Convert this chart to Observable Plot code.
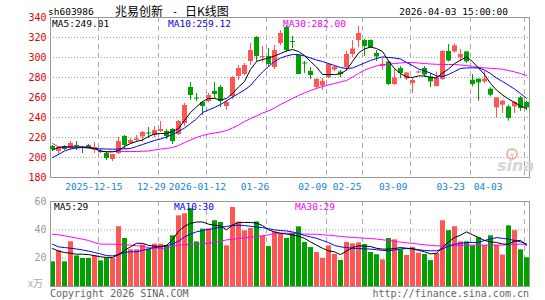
<!DOCTYPE html>
<html>
<head>
<meta charset="utf-8">
<script src="https://cdn.jsdelivr.net/npm/d3@7"></script>
<script src="https://cdn.jsdelivr.net/npm/@observablehq/plot@0.6"></script>
<style>
  html, body { margin: 0; padding: 0; background: #fff; }
  #wrap { position: relative; width: 545px; height: 300px; overflow: hidden; background: #fff; }
  #price, #vol, #overlay { position: absolute; left: 0; }
  #price { top: 0; }
  #vol { top: 190px; }
  #overlay { top: 0; pointer-events: none; }
</style>
</head>
<body>
<div id="wrap">
  <div id="price"></div>
  <div id="vol"></div>
  <svg id="overlay" width="545" height="300"></svg>
</div>
<script>
// ---------------- data ----------------
const dates = [
  "2025-12-03","2025-12-04","2025-12-05","2025-12-08","2025-12-09","2025-12-10","2025-12-11","2025-12-12",
  "2025-12-15","2025-12-16","2025-12-17","2025-12-18","2025-12-19","2025-12-22","2025-12-23","2025-12-24",
  "2025-12-25","2025-12-26","2025-12-29","2025-12-30","2025-12-31","2026-01-05","2026-01-06","2026-01-07",
  "2026-01-08","2026-01-09","2026-01-12","2026-01-13","2026-01-14","2026-01-15","2026-01-16","2026-01-19",
  "2026-01-20","2026-01-21","2026-01-22","2026-01-23","2026-01-26","2026-01-27","2026-01-28","2026-01-29",
  "2026-01-30","2026-02-02","2026-02-03","2026-02-04","2026-02-05","2026-02-06","2026-02-09","2026-02-10",
  "2026-02-11","2026-02-12","2026-02-13","2026-02-24","2026-02-25","2026-02-26","2026-02-27","2026-03-02",
  "2026-03-03","2026-03-04","2026-03-05","2026-03-06","2026-03-09","2026-03-10","2026-03-11","2026-03-12",
  "2026-03-13","2026-03-16","2026-03-17","2026-03-18","2026-03-19","2026-03-20","2026-03-23","2026-03-24",
  "2026-03-25","2026-03-26","2026-03-27","2026-03-30","2026-03-31","2026-04-01","2026-04-02","2026-04-03"
];
const open = [211,206,211,209,212,210,212,207,206,204,198,204,221,214,217,220.6,224.5,222,226,226,228,223,234,270,
  259.5,255,256,266,270,251,261,281,283,296,320,300,301,290,314,330,316,302,294.5,286,270,271.5,280,287.5,
  285.5,290,303,317,317,317,304,291,295.5,273,289,278.5,274,284.5,289,280.6,271,278,306,305.6,299.6,305.6,
  277.3,278.3,275.6,268.3,249.6,252.3,250.6,250.6,259.6,255];
const high = [212,211,212,216,216,211,213,215,208,205,203,220,222,219,222,226,230,231,236,228,229,237,254,275,
  264,256,264,275,272,257,281,292,294,314,321,311,309,312,327,332,321,303,296,290,279,279,294,291,
  287,306,317,331,318,317.5,307,299,296,289,291,285,279.5,286.5,291,284,285.6,307,313,313.5,308,306,
  283,278.5,286,269.6,259.6,257.3,252.3,256.3,261,256.5];
const low = [206,202,207,207,207,204,209,204,204,197,196,203,208,213,215,215,219,220,225,218,213,222,231,257,
  256,242,255,259,250,247,258,277,282,292,296,295,291,288,312,305,309,283,284,278,268,267,279,286,
  280,286,300,310,301,309,296,287,272,272,279,277,264,284,280,270,270.6,277,295.6,304,296,294,
  270.6,256.3,274,260.6,239.6,244,236.3,244,246,247];
const close = [208,210,208,214,211,209,210,210,205,199,203,216,212,217,218.5,225,223.5,227,228,221,216,236,252,262,
  258.5,251,262,263,256,255,280,289,292,307,301,301,293,307,324,307,315,283,293.5,282,278,276,293,290.5,
  283,303,308.5,324,311,310,300.5,293,273,279.5,284,284.5,277,285.6,282.5,275.6,279.5,306,296.5,311.6,303,295.6,
  273,274.6,278.3,262.3,259.6,256.3,239,255,249,249.6];
const volume = [17.4,25.2,17.4,31.6,21.6,19.8,19.8,21.6,18.1,19.9,19.8,42.2,33.9,25.9,25.9,29.3,26.4,29.9,29.9,28.7,
  35.8,49.9,51.3,55,31.5,40.5,40.5,46.4,45.2,28.7,55.8,45.5,39.3,40.9,45.6,35.3,28.2,38.4,36.9,33.9,
  37.6,42.1,31.1,27.5,24,19.8,28.7,22.6,18.4,31.1,30.1,30.8,29.6,24,22.4,18.8,33.9,32.9,25.9,21.9,
  27.5,23.5,22.6,18.3,23.3,46.4,39.4,42.2,31.5,31.5,28.7,34.4,28.7,35.8,29,22.2,42.8,39.4,25.9,20.3];
// moving averages as drawn on the chart (price)
const ma5 = [207.5,210,210.5,210.5,210.5,210.5,210,209,206.5,205.6,205.6,207,211,214,216,217.5,221,223.5,224,224,
  226,229,237,245,250.6,256,259,259,257.5,259,264,270.5,276,288,296,298,299.5,301.5,304,306.5,
  308,306,302,296,290.5,283,283,283,283.5,287.5,296,304.5,308.5,310.5,309,306,296.5,289,284,280.5,
  280,281.6,281.6,280,279.6,284.5,288.5,294,297.3,300.6,296,289.5,283,274,267.5,262.5,258.5,255,251.6,249.01];
const ma10 = [200,203,206.5,208.5,209.5,210,209.5,209,208.7,208.5,208.3,208.5,208.7,209,211,213,215,217,218.5,220.5,
  223,226,229.5,234,238.5,245,247.5,250,253,256.5,260.5,264,267.5,272,279,285.5,291,296,299.5,301.5,
  303,303,301.5,299.5,297.5,296,294,292,290,289,289.5,292,294.5,297,299,300.6,300,299.5,298.5,295,
  292,288.5,286.5,284.5,281.5,281,283,286,289,289.6,289.6,289.6,287.5,284,279.5,276,272.3,268.5,264,259.12];
const ma30 = [214,210.6,210.6,210.6,210.6,210.5,210.5,209,206.3,206,206,206,206,206,206,206.3,206.5,207.5,208.5,209,
  210,212,215,217.5,220,222,223.5,224.5,225.5,227,229.5,232.5,236,239,241.5,244.5,246.5,249.5,253,256,
  259,262,264.5,267,269,271,272.5,274,275.5,277,280.5,284,287.5,289.6,291.5,292.8,293.5,294,294.5,295,
  295,294.5,294,293.5,293.2,293,293,293,292.5,292,291,290.2,289.6,289.2,288.8,288.3,287,285.6,284,282];
// moving averages as drawn on the chart (volume)
const vma5 = [26.8,25,24,23.5,22.8,22.8,22.5,21.8,21,20.5,20.5,22.5,25.5,28,30.5,30.5,29,28.5,28.2,29,
  33,39,42.5,44.5,45.5,45.6,44,43.3,42.8,40,43.5,45.2,45.2,45.2,44.8,43,40,38.5,37.6,37,
  36.5,35.5,34,31.5,29.2,27,25.2,24.5,22.5,25,27.5,28.7,28.5,28.2,27,26.4,26.4,26.8,27.5,27,
  26.8,25.5,24.5,23,23.5,27.5,31.5,34.5,36.2,38.6,36.5,34.6,32.5,31.5,31.1,30,29.9,32,32.5,29.3];
const vma10 = [29.9,28,27.5,27,26.5,25.8,25,24,23,21.8,21.6,22.5,24,24.5,24.5,25.5,26.5,27.5,28,28.7,
  30,32,35,37,38.6,39.5,40.3,41,41.8,42.4,43,43.3,43,42.5,42,41.6,40.8,40,39.5,39.2,
  38.5,37.5,36,35,34,32.5,31,29,28,27.5,27,26.8,26.5,26.4,26,25.5,25.2,25.8,26.5,26.8,
  26.5,26,25.5,25.2,25.2,26.5,28.5,29.8,30.5,31.1,31.1,31.1,32.5,33.5,34.5,34,33.4,32.5,31.5,30];
const vma30 = [36.9,36.5,35.8,35,34.2,33.4,32.5,31,29.9,29.9,29.9,29.7,29.5,29.2,28.8,28.3,27.5,27.2,27,26.8,
  28.7,29,29.5,29.8,30,30.3,30.6,31.3,32,32.9,33.3,33.9,34.3,34.8,35.3,35.8,36.5,37.5,37.6,37.6,
  37.5,37.2,37,36.9,36.9,36.5,36.2,35.8,35.4,35,34.6,34.4,34.1,33.9,33.5,33,32.5,32,31.3,30.8,
  30.5,29.9,29.5,29,28.7,28.7,28.7,28.7,29,29.2,29.2,29.2,29.2,29.2,29.2,29.2,29.5,29.7,29.9,29.2];

const tickDates = ["2025-12-15","2025-12-29","2026-01-12","2026-01-26","2026-02-09","2026-02-25","2026-03-09","2026-03-23","2026-04-03"];
const tickLabels = ["2025-12-15","12-29","2026-01-12","01-26","02-09","02-25","03-09","03-23","04-03"];
const priceTicks = [180,200,220,240,260,280,300,320,340];
const priceGrid = [200,220,240,260,280,300,320];
const volTicks = [20,40,60];
const volGrid = [20,40];

// ---------------- build ----------------
const UP = "#ff5555", DOWN = "#00a000";
const rows = dates.map((d, i) => ({
  i, date: d, open: open[i], high: high[i], low: low[i], close: close[i], vol: volume[i],
  ma5: ma5[i], ma10: ma10[i], ma30: ma30[i], vma5: vma5[i], vma10: vma10[i], vma30: vma30[i]
}));
const isUp = d => d.close >= d.open;
const ticks = tickDates.map((d, k) => ({i: dates.indexOf(d), label: tickLabels[k]}));
const xDomain = [-1 / 3, dates.length - 0.5];
const mono = "DejaVu Sans Mono, monospace";
// sina staggers date labels slightly left of their grid line; last one kept inside
const labelX = d => Math.min(d.i * 0.9595 - 0.79, 72.6);

const price = Plot.plot({
  width: 545, height: 190,
  marginLeft: 50, marginRight: 16, marginTop: 17, marginBottom: 13,
  style: {background: "transparent", overflow: "visible", fontFamily: mono, fontSize: "10px"},
  x: {type: "linear", domain: xDomain, axis: null},
  y: {domain: [180, 340], axis: null},
  marks: [
    Plot.ruleY(priceGrid, {y: d => d, stroke: "#a0a0a0", strokeDasharray: "1,2"}),
    Plot.ruleX(ticks, {x: "i", dx: -2, stroke: "#aaaaaa", strokeDasharray: "5,4"}),
    Plot.frame({stroke: "#999999"}),
    Plot.ruleX(rows, {filter: isUp, x: "i", y1: "low", y2: "high", stroke: UP}),
    Plot.ruleX(rows, {filter: d => !isUp(d), x: "i", y1: "low", y2: "high", stroke: DOWN}),
    Plot.ruleX(rows, {filter: isUp, x: "i", y1: "open", y2: "close", stroke: UP, strokeWidth: 5}),
    Plot.ruleX(rows, {filter: d => !isUp(d), x: "i", y1: "open", y2: "close", stroke: DOWN, strokeWidth: 5}),
    Plot.line(rows, {x: "i", y: "ma30", stroke: "#ff00ff", strokeWidth: 1}),
    Plot.line(rows, {x: "i", y: "ma10", stroke: "#0000ff", strokeWidth: 1}),
    Plot.line(rows, {x: "i", y: "ma5", stroke: "#000000", strokeWidth: 1}),
    Plot.text(priceTicks, {y: d => d, text: d => String(d), frameAnchor: "left", textAnchor: "end", dx: -4,
      fill: "#e00000", fontSize: 10, fontFamily: mono}),
    Plot.text(ticks, {x: labelX, text: "label", frameAnchor: "bottom", lineAnchor: "top", dy: 6,
      fill: "#1184d6", fontSize: 9.5, fontFamily: mono})
  ]
});
document.getElementById("price").appendChild(price);

const vol = Plot.plot({
  width: 545, height: 110,
  marginLeft: 50, marginRight: 16, marginTop: 11, marginBottom: 14,
  style: {background: "transparent", overflow: "visible", fontFamily: mono, fontSize: "10px"},
  x: {type: "linear", domain: xDomain, axis: null},
  y: {domain: [0, 60], axis: null},
  marks: [
    Plot.ruleY(volGrid, {y: d => d, stroke: "#a0a0a0", strokeDasharray: "1,2"}),
    Plot.ruleX(ticks, {x: "i", dx: -2, stroke: "#aaaaaa", strokeDasharray: "5,4"}),
    Plot.ruleX(rows, {filter: isUp, x: "i", y1: 0, y2: "vol", stroke: UP, strokeWidth: 5}),
    Plot.ruleX(rows, {filter: d => !isUp(d), x: "i", y1: 0, y2: "vol", stroke: DOWN, strokeWidth: 5}),
    Plot.line(rows, {x: "i", y: "vma30", stroke: "#ff00ff", strokeWidth: 1}),
    Plot.line(rows, {x: "i", y: "vma10", stroke: "#0000ff", strokeWidth: 1}),
    Plot.line(rows, {x: "i", y: "vma5", stroke: "#000000", strokeWidth: 1}),
    Plot.frame({stroke: "#999999"}),
    Plot.text(volTicks, {y: d => d, text: d => String(d), frameAnchor: "left", textAnchor: "end", dx: -4,
      fill: "#999999", fontSize: 10, fontFamily: mono})
  ]
});
document.getElementById("vol").appendChild(vol);

// ---------------- text overlay ----------------
const ov = d3.select("#overlay");
function t(x, y, s, opts = {}) {
  ov.append("text").attr("x", x).attr("y", y)
    .attr("font-family", opts.family || mono)
    .attr("font-size", opts.size || 9.5)
    .attr("fill", opts.fill || "#000")
    .attr("text-anchor", opts.anchor || "start")
    .attr("font-style", opts.style || "normal")
    .attr("font-weight", opts.weight || "normal")
    .text(s);
}
const cjk = "Noto Sans CJK SC, sans-serif";
t(48, 15, "sh603986");
t(115, 15.5, "兆易创新", {family: cjk, size: 12});
t(172, 15, "-", {size: 10});
t(185, 15.5, "日K线图", {family: cjk, size: 12});
t(508, 15, "2026-04-03 15:00:00", {anchor: "end"});
t(52, 27, "MA5:" + ma5[ma5.length - 1].toFixed(2));
t(168, 27, "MA10:" + ma10[ma10.length - 1].toFixed(2), {fill: "#0000ee"});
t(283, 27, "MA30:" + ma30[ma30.length - 1].toFixed(2), {fill: "#ee00ee"});
t(54, 210, "MA5:" + Math.round(vma5[vma5.length - 1]));
t(174, 210, "MA10:" + Math.round(vma10[vma10.length - 1]), {fill: "#0000ee"});
t(295, 210, "MA30:" + Math.round(vma30[vma30.length - 1]), {fill: "#ee00ee"});
t(28, 287, "x万", {fill: "#aaaaaa", size: 10, family: cjk});
t(50, 297, "Copyright 2026 SINA.COM", {fill: "#666666", size: 10});
t(529, 297, "http://finance.sina.com.cn", {fill: "#666666", size: 10, anchor: "end"});
// sina watermark
ov.append("circle").attr("cx", 512).attr("cy", 154).attr("r", 5).attr("fill", "none")
  .attr("stroke", "#f2b0b0").attr("stroke-width", 2);
ov.append("circle").attr("cx", 512).attr("cy", 155).attr("r", 1.8).attr("fill", "#e8c8c8");
t(497, 171, "sina", {family: "DejaVu Sans, sans-serif", size: 16, fill: "#d6d6d6", style: "italic", weight: "bold"});
</script>
</body>
</html>
